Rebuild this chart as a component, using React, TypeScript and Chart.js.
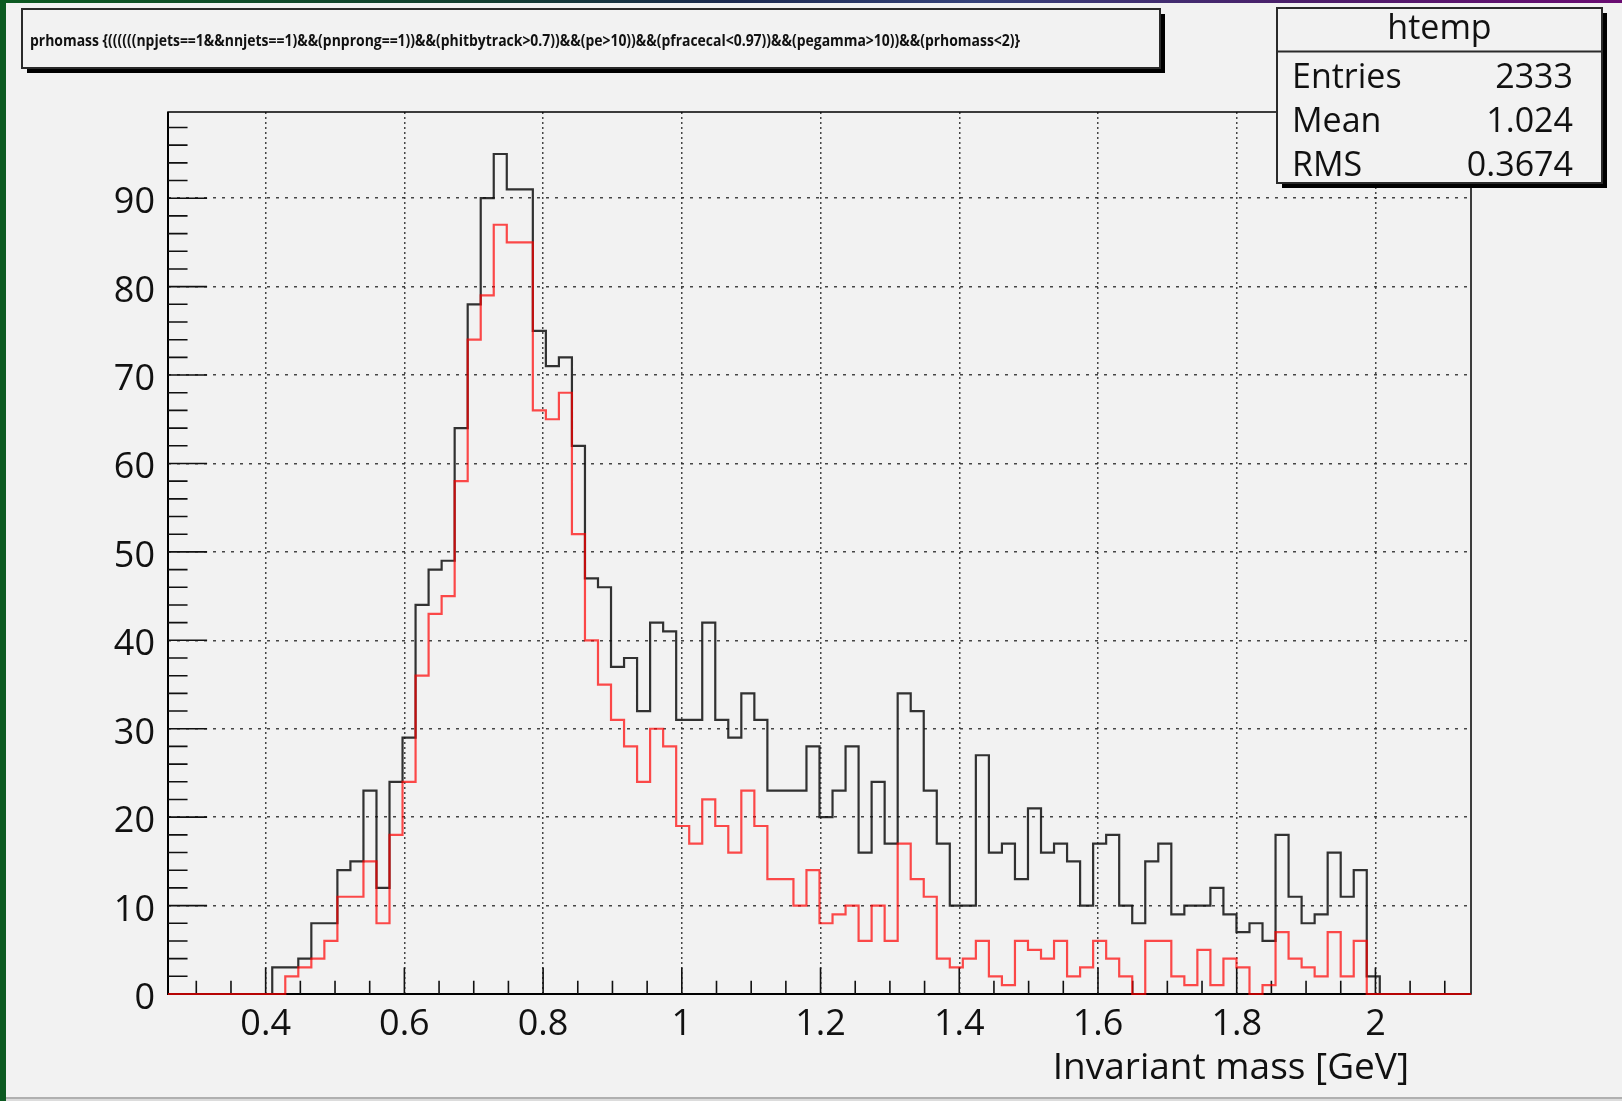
import React, { useEffect, useRef } from "react";
import { Chart, registerables } from "chart.js";

Chart.register(...registerables);

const WIDTH = 1622;
const HEIGHT = 1101;

// Histogram binning: 100 equal-width bins
const BIN_LOW = 0.2592;
const BIN_WIDTH = 0.018786;
const BIN_COUNT = 100;
const X_HIGH = BIN_LOW + BIN_COUNT * BIN_WIDTH;
const Y_MAX = 99.75;

// Entries per bin, all candidates (black)
const allCandidates = [
  0, 0, 0, 0, 0, 0, 0, 0,
  3, 3, 4, 8, 8, 14, 15, 23, 12, 24, 29, 44, 48, 49, 64, 78, 90, 95, 91, 91, 75, 71, 72, 62, 47, 46,
  37, 38, 32, 42, 41, 31, 31, 42, 31, 29, 34, 31, 23, 23, 23, 28, 20, 23, 28, 16, 24, 17, 34, 32, 23, 17,
  10, 10, 27, 16, 17, 13, 21, 16, 17, 15, 10, 17, 18, 10, 8, 15, 17, 9, 10, 10, 12, 9, 7, 8, 6, 18, 11, 8, 9, 16, 11, 14, 2,
  0, 0, 0, 0, 0, 0, 0,
];

// Entries per bin, tighter selection (red)
const selectedCandidates = [
  0, 0, 0, 0, 0, 0, 0, 0, 0,
  2, 3, 4, 6, 11, 11, 15, 8, 18, 24, 36, 43, 45, 58, 74, 79, 87, 85, 85, 66, 65, 68, 52, 40, 35,
  31, 28, 24, 30, 28, 19, 17, 22, 19, 16, 23, 19, 13, 13, 10, 14, 8, 9, 10, 6, 10, 6, 17, 13, 11, 4,
  3, 4, 6, 2, 1, 6, 5, 4, 6, 2, 3, 6, 4, 2, 0, 6, 6, 2, 1, 5, 1, 4, 3, 0, 1, 7, 4, 3, 2, 7, 2, 6, 0,
  0, 0, 0, 0, 0, 0, 0,
];

const X_TICKS = [0.4, 0.6, 0.8, 1.0, 1.2, 1.4, 1.6, 1.8, 2.0];
const X_TICK_LABELS = ["0.4", "0.6", "0.8", "1", "1.2", "1.4", "1.6", "1.8", "2"];
const Y_TICKS = [0, 10, 20, 30, 40, 50, 60, 70, 80, 90];
const Y_TICK_LABELS = ["0", "10", "20", "30", "40", "50", "60", "70", "80", "90"];
const X_MINOR_STEP = 0.05;
const Y_MINOR_STEP = 2;

const TITLE =
  "prhomass {((((((npjets==1&&nnjets==1)&&(pnprong==1))&&(phitbytrack>0.7))&&(pe>10))&&(pfracecal<0.97))&&(pegamma>10))&&(prhomass<2)}";
const X_TITLE = "Invariant mass [GeV]";
const STATS_NAME = "htemp";
const STATS_ROWS: [string, string][] = [
  ["Entries", "2333"],
  ["Mean", "1.024"],
  ["RMS", "0.3674"],
];

const FONT = '"Open Sans", "DejaVu Sans", sans-serif';
const PANE = "#f2f2f2";
const INK = "#111111";

function stepPoints(counts: number[]) {
  const pts = counts.map((c, i) => ({ x: BIN_LOW + i * BIN_WIDTH, y: c }));
  pts.push({ x: X_HIGH, y: counts[counts.length - 1] });
  return pts;
}

function paveBox(ctx: CanvasRenderingContext2D, x0: number, y0: number, x1: number, y1: number, shadow: number) {
  ctx.fillStyle = "#000";
  ctx.fillRect(x0 + shadow, y1, x1 - x0, shadow);
  ctx.fillRect(x1, y0 + shadow, shadow, y1 - y0);
  ctx.fillStyle = PANE;
  ctx.fillRect(x0, y0, x1 - x0, y1 - y0);
  ctx.strokeStyle = "#2a2a2a";
  ctx.lineWidth = 2;
  ctx.strokeRect(x0, y0, x1 - x0, y1 - y0);
}

const rootStyle = {
  id: "rootStyle",
  beforeDraw(chart: any) {
    const ctx: CanvasRenderingContext2D = chart.ctx;
    ctx.save();
    ctx.fillStyle = "#0c5a21";
    ctx.fillRect(0, 0, WIDTH, HEIGHT);
    const g = ctx.createLinearGradient(0, 0, WIDTH, 0);
    g.addColorStop(0, "#0c5a21");
    g.addColorStop(0.3, "#123e30");
    g.addColorStop(0.45, "#1c2a50");
    g.addColorStop(0.6, "#35427a");
    g.addColorStop(0.8, "#4b1e6a");
    g.addColorStop(1, "#6a0c72");
    ctx.fillStyle = g;
    ctx.fillRect(0, 0, WIDTH, 3);
    ctx.fillStyle = PANE;
    ctx.fillRect(6, 3, WIDTH - 6, HEIGHT - 7);
    ctx.fillStyle = "#b0b0b0";
    ctx.fillRect(6, HEIGHT - 4, WIDTH - 6, 2);
    ctx.fillStyle = "#dcdcdc";
    ctx.fillRect(6, HEIGHT - 2, WIDTH - 6, 2);
    ctx.restore();
  },
  beforeDatasetsDraw(chart: any) {
    const ctx: CanvasRenderingContext2D = chart.ctx;
    const a = chart.chartArea;
    const xs = chart.scales.x;
    const ys = chart.scales.y;
    ctx.save();
    // frame
    ctx.strokeStyle = "#000";
    ctx.lineWidth = 1.5;
    ctx.strokeRect(a.left, a.top, a.right - a.left, a.bottom - a.top);
    ctx.lineWidth = 2;
    ctx.beginPath();
    ctx.moveTo(a.left, a.top);
    ctx.lineTo(a.left, a.bottom);
    ctx.lineTo(a.right, a.bottom);
    ctx.stroke();

    // inward ticks
    ctx.lineWidth = 1.6;
    ctx.strokeStyle = "#111";
    ctx.beginPath();
    const plotH = a.bottom - a.top;
    const plotW = a.right - a.left;
    const xMajorLen = 0.03 * plotH;
    const yMajorLen = 0.03 * plotW;
    for (let i = Math.ceil(xs.min / X_MINOR_STEP); i * X_MINOR_STEP <= xs.max; i++) {
      const v = i * X_MINOR_STEP;
      const major = X_TICKS.some((t) => Math.abs(t - v) < 1e-6);
      const px = xs.getPixelForValue(v);
      ctx.moveTo(px, a.bottom);
      ctx.lineTo(px, a.bottom - (major ? xMajorLen : xMajorLen / 2));
    }
    for (let i = 1; i * Y_MINOR_STEP <= ys.max; i++) {
      const v = i * Y_MINOR_STEP;
      const major = Y_TICKS.some((t) => Math.abs(t - v) < 1e-6);
      const py = ys.getPixelForValue(v);
      ctx.moveTo(a.left, py);
      ctx.lineTo(a.left + (major ? yMajorLen : yMajorLen / 2), py);
    }
    ctx.stroke();

    // tick labels
    ctx.fillStyle = INK;
    ctx.font = `36px ${FONT}`;
    ctx.textBaseline = "alphabetic";
    ctx.textAlign = "center";
    X_TICKS.forEach((v, i) => {
      ctx.fillText(X_TICK_LABELS[i], xs.getPixelForValue(v), a.bottom + 41);
    });
    ctx.textAlign = "right";
    Y_TICKS.forEach((v, i) => {
      ctx.fillText(Y_TICK_LABELS[i], a.left - 13, ys.getPixelForValue(v) + 15);
    });

    // axis title
    ctx.font = `37px ${FONT}`;
    ctx.textAlign = "right";
    ctx.fillText(X_TITLE, 1409, 1079);
    ctx.restore();
  },
  afterDraw(chart: any) {
    const ctx: CanvasRenderingContext2D = chart.ctx;
    ctx.save();
    // title pave
    paveBox(ctx, 22, 9, 1160, 68, 5);
    ctx.fillStyle = INK;
    ctx.font = `bold 16px ${FONT}`;
    ctx.textBaseline = "alphabetic";
    ctx.textAlign = "left";
    const w = ctx.measureText(TITLE).width;
    ctx.save();
    ctx.translate(30, 46);
    ctx.scale(990 / w, 1);
    ctx.fillText(TITLE, 0, 0);
    ctx.restore();

    // statistics pave
    const sx0 = 1277;
    const sx1 = 1602;
    paveBox(ctx, sx0, 8, sx1, 183, 5);
    ctx.strokeStyle = "#2a2a2a";
    ctx.lineWidth = 2;
    ctx.beginPath();
    ctx.moveTo(sx0, 51.5);
    ctx.lineTo(sx1, 51.5);
    ctx.stroke();
    ctx.fillStyle = INK;
    ctx.font = `34px ${FONT}`;
    ctx.textAlign = "center";
    ctx.fillText(STATS_NAME, (sx0 + sx1) / 2, 39);
    STATS_ROWS.forEach(([k, v], i) => {
      const base = 88 + i * 44;
      ctx.textAlign = "left";
      ctx.fillText(k, 1292, base);
      ctx.textAlign = "right";
      ctx.fillText(v, 1573, base);
    });
    ctx.restore();
  },
};

export default function App() {
  const canvasRef = useRef<HTMLCanvasElement | null>(null);

  useEffect(() => {
    const canvas = canvasRef.current;
    if (!canvas) return;
    const chart = new Chart(canvas, {
      type: "line",
      data: {
        datasets: [
          {
            label: "selected",
            data: stepPoints(selectedCandidates),
            borderColor: "rgba(255, 0, 0, 0.7)",
            borderWidth: 2.2,
            stepped: "before",
            pointRadius: 0,
            fill: false,
            order: 0,
            clip: false,
            borderJoinStyle: "miter",
          },
          {
            label: "all",
            data: stepPoints(allCandidates),
            borderColor: "rgba(15, 15, 15, 0.85)",
            borderWidth: 2.2,
            stepped: "before",
            pointRadius: 0,
            fill: false,
            order: 1,
            clip: false,
            borderJoinStyle: "miter",
          },
        ],
      },
      options: {
        animation: false,
        responsive: false,
        events: [],
        layout: { padding: { left: 0, top: 112, right: 151, bottom: 0 } },
        plugins: {
          legend: { display: false },
          tooltip: { enabled: false },
          title: { display: false },
        },
        scales: {
          x: {
            type: "linear",
            min: BIN_LOW,
            max: X_HIGH,
            afterBuildTicks: (s: any) => {
              s.ticks = X_TICKS.map((v) => ({ value: v }));
            },
            afterFit: (s: any) => {
              s.height = 107;
            },
            grid: { color: "rgba(40,40,40,0.85)", lineWidth: 1.5, drawTicks: false },
            border: { display: false, dash: [2, 3] },
            ticks: { display: false },
          },
          y: {
            type: "linear",
            min: 0,
            max: Y_MAX,
            afterBuildTicks: (s: any) => {
              s.ticks = Y_TICKS.map((v) => ({ value: v }));
            },
            afterFit: (s: any) => {
              s.width = 168;
            },
            grid: { color: "rgba(40,40,40,0.85)", lineWidth: 1.5, drawTicks: false },
            border: { display: false, dash: [3, 6] },
            ticks: { display: false },
          },
        },
      },
      plugins: [rootStyle],
    } as any);
    return () => chart.destroy();
  }, []);

  return (
    <div style={{ position: "fixed", left: 0, top: 0, width: WIDTH, height: HEIGHT }}>
      <canvas ref={canvasRef} width={WIDTH} height={HEIGHT} style={{ display: "block", width: WIDTH, height: HEIGHT }} />
    </div>
  );
}
